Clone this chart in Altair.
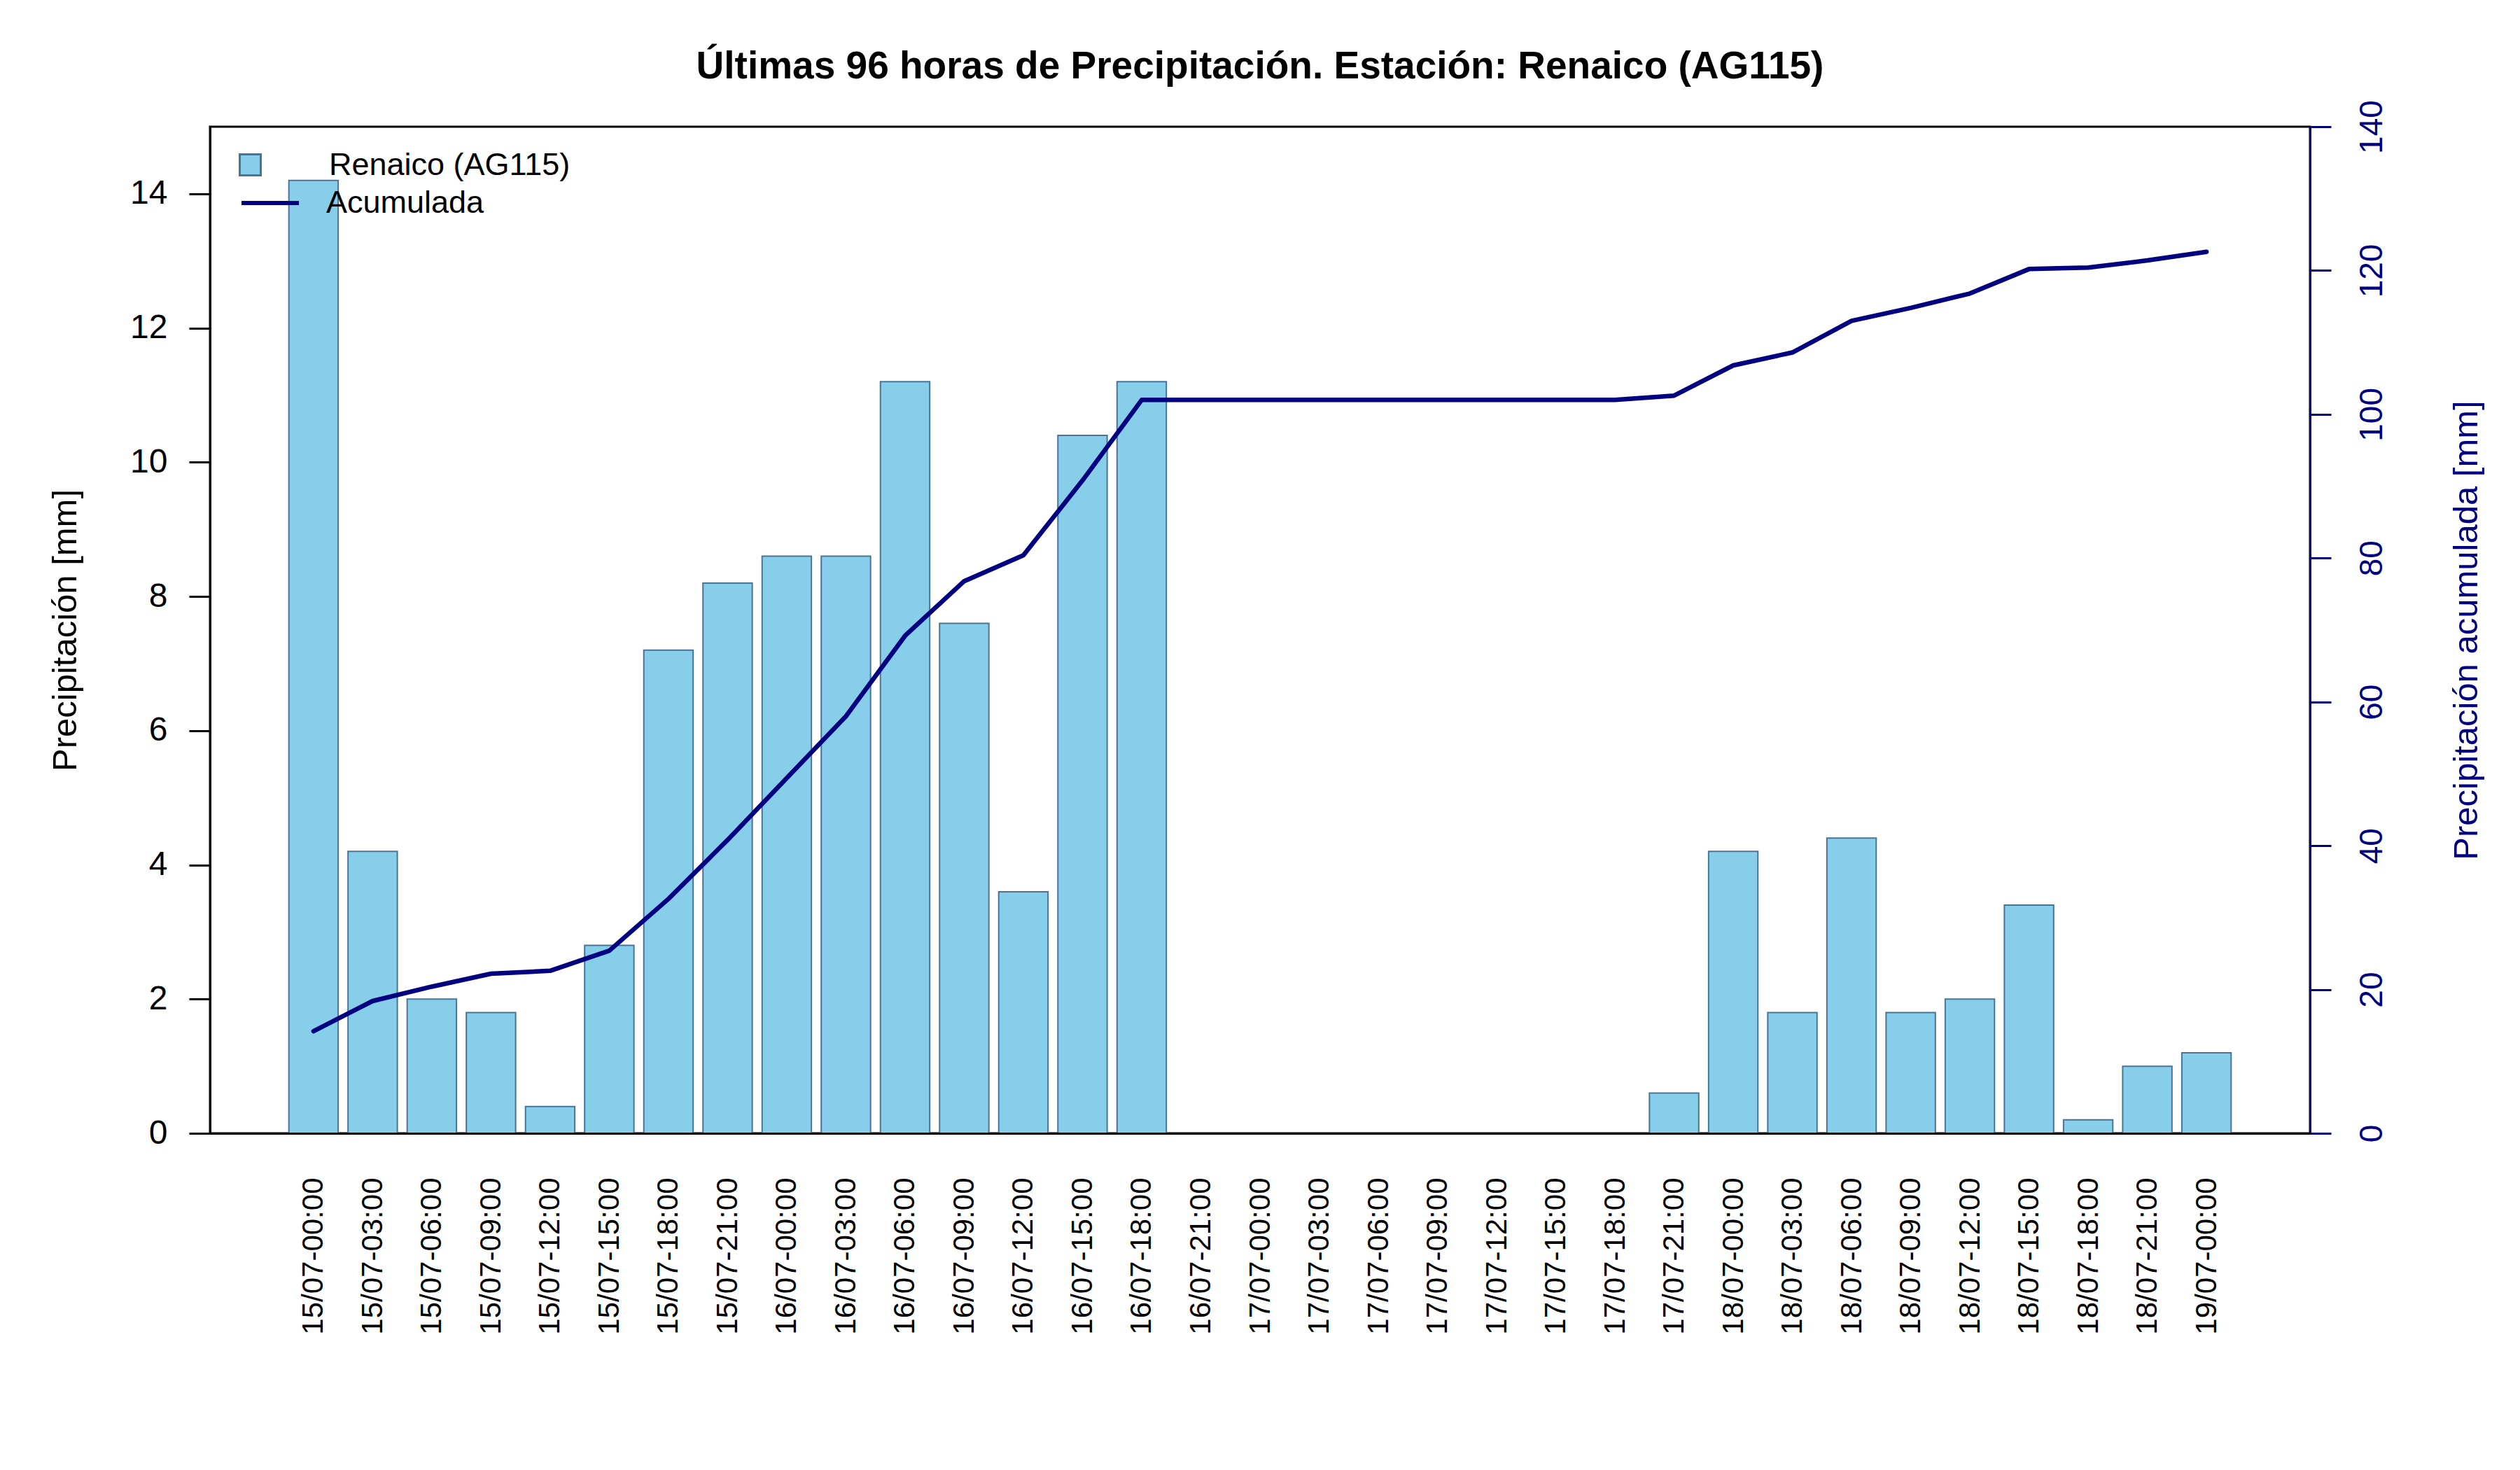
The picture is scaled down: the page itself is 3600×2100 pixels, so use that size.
import altair as alt
import pandas as pd

# Three-hourly timestamps (dd/mm-hh:mm)
horas = [
    "15/07-00:00", "15/07-03:00", "15/07-06:00", "15/07-09:00", "15/07-12:00",
    "15/07-15:00", "15/07-18:00", "15/07-21:00", "16/07-00:00", "16/07-03:00",
    "16/07-06:00", "16/07-09:00", "16/07-12:00", "16/07-15:00", "16/07-18:00",
    "16/07-21:00", "17/07-00:00", "17/07-03:00", "17/07-06:00", "17/07-09:00",
    "17/07-12:00", "17/07-15:00", "17/07-18:00", "17/07-21:00", "18/07-00:00",
    "18/07-03:00", "18/07-06:00", "18/07-09:00", "18/07-12:00", "18/07-15:00",
    "18/07-18:00", "18/07-21:00", "19/07-00:00",
]

# Precipitation per 3-hour interval [mm]
precipitacion = [
    14.2, 4.2, 2.0, 1.8, 0.4, 2.8, 7.2, 8.2, 8.6, 8.6,
    11.2, 7.6, 3.6, 10.4, 11.2, 0.0, 0.0, 0.0, 0.0, 0.0,
    0.0, 0.0, 0.0, 0.6, 4.2, 1.8, 4.4, 1.8, 2.0, 3.4,
    0.2, 1.0, 1.2,
]

# Accumulated precipitation [mm]
acumulada = [
    14.2, 18.4, 20.4, 22.2, 22.6, 25.4, 32.6, 40.8, 49.4, 58.0,
    69.2, 76.8, 80.4, 90.8, 102.0, 102.0, 102.0, 102.0, 102.0, 102.0,
    102.0, 102.0, 102.0, 102.6, 106.8, 108.6, 113.0, 114.8, 116.8, 120.2,
    120.4, 121.4, 122.6,
]

estacion = "Renaico (AG115)"
serie_acum = "Acumulada"

df = pd.DataFrame({
    "i": list(range(len(horas))),
    "hora": horas,
    "pp": precipitacion,
    "acum": acumulada,
    "serie_barra": [estacion] * len(horas),
    "serie_linea": [serie_acum] * len(horas),
})

AZUL_CIELO = "#87CEEB"
BORDE = "#4B7494"
NAVY = "#000080"
FUENTE = "Liberation Sans"

# barplot-style slots: bar width 1, gap 0.2 (in slot units of 1.2)
MEDIO_ANCHO = 0.5 / 1.2
x_escala = alt.Scale(domain=[-1.75, len(horas) - 1 + 1.75], nice=False, zero=False)
etiquetas_expr = "[" + ",".join("'" + h + "'" for h in horas) + "][datum.value]"

x_eje = alt.Axis(
    title=None,
    values=list(range(len(horas))),
    labelExpr=etiquetas_expr,
    labelAngle=270,
    labelAlign="right",
    labelBaseline="middle",
    labelFontSize=42,
    labelPadding=63,
    labelColor="black",
    labelFlush=False,
    labelOverlap=False,
    labelLimit=0,
    ticks=False,
    domain=True,
    domainColor="black",
    domainWidth=3,
    zindex=1,
    grid=False,
)

barras = alt.Chart(df).transform_calculate(
    x0=f"datum.i - {MEDIO_ANCHO}",
    x1=f"datum.i + {MEDIO_ANCHO}",
    base="0",
).mark_bar(stroke=BORDE, strokeWidth=2).encode(
    x=alt.X("x0:Q", scale=x_escala, title=None, axis=x_eje),
    x2="x1:Q",
    y=alt.Y(
        "pp:Q",
        scale=alt.Scale(domain=[0, 15], nice=False, zero=True),
        axis=alt.Axis(
            title="Precipitación [mm]",
            values=[0, 2, 4, 6, 8, 10, 12, 14],
            labelAngle=0,
            labelFontSize=48,
            labelColor="black",
            labelPadding=31,
            labelFlush=False,
            tickSize=30,
            tickWidth=3,
            tickColor="black",
            domainColor="black",
            domainWidth=3,
            titleFontSize=49,
            titleFontWeight="normal",
            titleColor="black",
            titlePadding=67,
            grid=False,
        ),
    ),
    y2="base:Q",
    fill=alt.Fill(
        "serie_barra:N",
        scale=alt.Scale(domain=[estacion], range=[AZUL_CIELO]),
        legend=alt.Legend(
            title=None,
            orient="none",
            legendX=35,
            legendY=32,
            padding=0,
            symbolType="square",
            symbolSize=900,
            symbolStrokeColor=BORDE,
            symbolStrokeWidth=3,
            labelFontSize=45,
            labelColor="black",
            labelOffset=90,
            labelLimit=0,
        ),
    ),
)

linea = alt.Chart(df).mark_line(strokeWidth=6.5, strokeJoin="round", strokeCap="round").encode(
    x=alt.X("i:Q", scale=x_escala, title=None, axis=x_eje),
    y=alt.Y(
        "acum:Q",
        scale=alt.Scale(domain=[0, 140], nice=False, zero=True),
        axis=alt.Axis(
            orient="right",
            title="Precipitación acumulada [mm]",
            values=[0, 20, 40, 60, 80, 100, 120, 140],
            labelAngle=270,
            labelAlign="center",
            labelBaseline="top",
            labelFontSize=46,
            labelColor=NAVY,
            labelPadding=36,
            labelFlush=False,
            tickSize=30,
            tickWidth=3,
            tickColor=NAVY,
            domainColor=NAVY,
            domainWidth=3,
            titleAngle=270,
            titleBaseline="top",
            titleFontSize=49,
            titleFontWeight="normal",
            titleColor=NAVY,
            titlePadding=88,
            grid=False,
        ),
    ),
    stroke=alt.Stroke(
        "serie_linea:N",
        scale=alt.Scale(domain=[serie_acum], range=[NAVY]),
        legend=alt.Legend(
            title=None,
            orient="none",
            legendX=42,
            legendY=65,
            padding=0,
            symbolType="stroke",
            symbolSize=6724,
            symbolStrokeWidth=6,
            labelFontSize=45,
            labelColor="black",
            labelOffset=36,
            labelLimit=0,
        ),
    ),
)

chart = (
    alt.layer(barras, linea)
    .resolve_scale(y="independent", fill="independent", stroke="independent")
    .properties(
        width=3000,
        height=1438,
        autosize=alt.AutoSizeParams(type="none"),
        padding={"left": 300, "top": 181, "right": 300, "bottom": 481},
        title=alt.TitleParams(
            "Últimas 96 horas de Precipitación. Estación: Renaico (AG115)",
            fontSize=55,
            fontWeight="bold",
            anchor="middle",
            frame="group",
            baseline="alphabetic",
            offset=-24,
            color="black",
            font=FUENTE,
        ),
    )
    .configure(font=FUENTE, background="white")
    .configure_view(stroke="black", strokeWidth=3)
)

chart.save("out.html", embed_options={"renderer": "svg", "actions": False})
